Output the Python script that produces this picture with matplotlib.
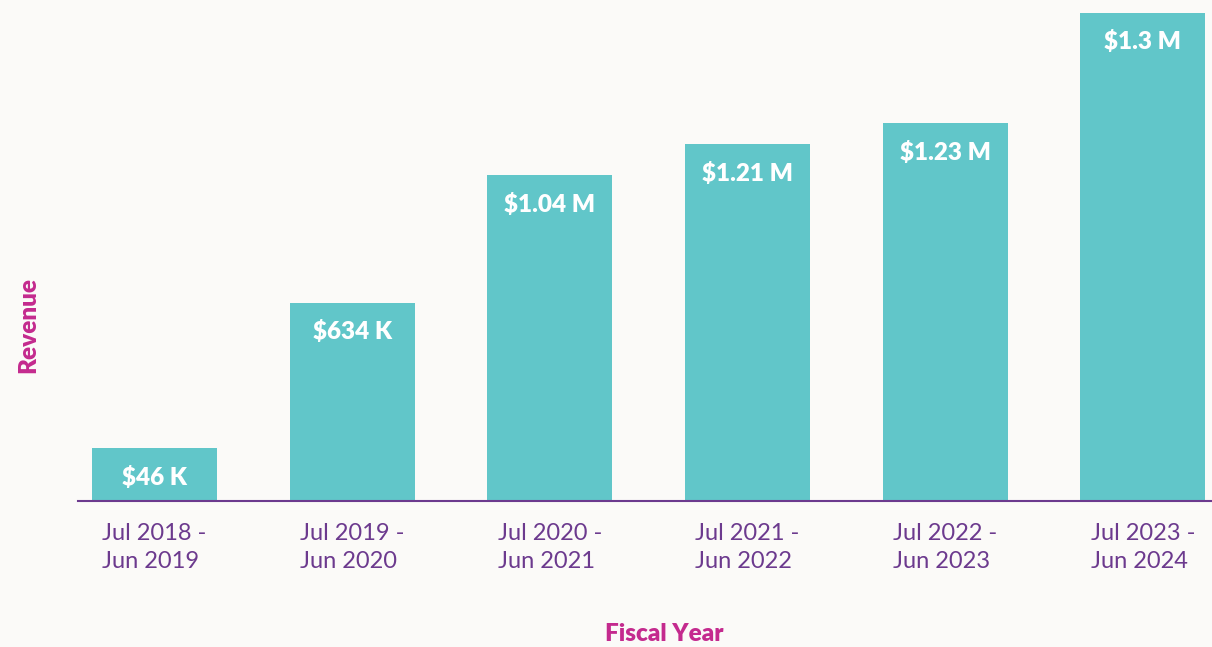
import matplotlib.pyplot as plt

# Данные
fiscal_years = ['Jul 2018 -\nJun 2019', 'Jul 2019 -\nJun 2020', 'Jul 2020 -\nJun 2021',
                'Jul 2021 -\nJun 2022', 'Jul 2022 -\nJun 2023', 'Jul 2023 -\nJun 2024']
revenue_labels = ['$46 K', '$634 K', '$1.04 M', '$1.21 M', '$1.23 M', '$1.3 M']
# высота столбцов как на картинке (не пропорциональна подписям)
bar_height = [53, 198, 326, 357, 378, 488]

teal = '#61c6c9'
purple = '#6c3a8e'
magenta = '#c42a8e'
bg = '#fbfaf8'

plt.rcParams['font.family'] = ['Lato', 'DejaVu Sans']

fig = plt.figure(figsize=(12.12, 6.47), dpi=100, facecolor=bg)
ax = fig.add_axes([78 / 1212, (647 - 501) / 647, 1 - 78 / 1212, 501 / 647])
ax.set_facecolor(bg)

x = range(len(fiscal_years))
bars = ax.bar(x, bar_height, width=0.632, color=teal)

for b, lab in zip(bars, revenue_labels):
    ax.text(b.get_x() + b.get_width() / 2, b.get_height() - 29, lab,
            ha='center', va='center', color='white', fontsize=17.5, fontweight='heavy')

ax.set_xlim(-0.387, 5.35)
ax.set_ylim(0, 501)

for s in ['top', 'right', 'left']:
    ax.spines[s].set_visible(False)
ax.spines['bottom'].set_color(purple)
ax.spines['bottom'].set_linewidth(1.5)

ax.set_yticks([])
ax.set_xticks(list(x))
ax.set_xticklabels(fiscal_years, color=purple, fontsize=17, multialignment='left',
                   linespacing=1.4)
ax.tick_params(axis='x', length=0, pad=16)

fig.text(664 / 1212, 1 - 634 / 647, 'Fiscal Year', ha='center', va='center',
         color=magenta, fontsize=17.5, fontweight='heavy')
fig.text(28 / 1212, 1 - 325 / 647, 'Revenue', ha='center', va='center', rotation=90,
         color=magenta, fontsize=17.5, fontweight='heavy')

fig.savefig('out.png', dpi=100, facecolor=bg)
